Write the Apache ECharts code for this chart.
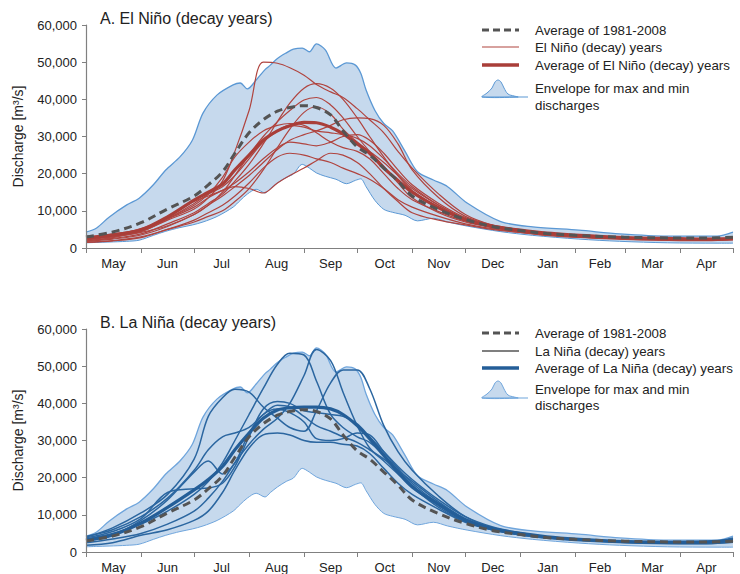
<!DOCTYPE html>
<html>
<head>
<meta charset="utf-8">
<script src="https://cdn.jsdelivr.net/npm/echarts@6/dist/echarts.min.js"></script>
<style>html,body{margin:0;padding:0;background:#fff}#c{width:740px;height:574px}</style>
</head>
<body>
<div id="c"></div>
<script>
// ---- axis labels ----
const monthLabels = ['May','Jun','Jul','Aug','Sep','Oct','Nov','Dec','Jan','Feb','Mar','Apr'];
const monthEdges = [0,31,61,92,123,153,184,214,245,276,304,335,365];
const yTicks = [0,10000,20000,30000,40000,50000,60000];

// ---- envelope (max/min 1981-2008), day of hydrological year from 1 May ----
const envDays = [0,6,13,23,30,38,45,53,60,66,74,83,87,91,96,101,104,108,113,117,122,126,130,135,141,147,152,155,158,163,168,173,180,187,196,204,215,234,252,278,301,328,356,365];
const envUpper = [4300,5400,8300,11600,13400,17000,21000,24500,29000,36300,41200,43900,44400,42800,45200,48000,49200,51000,52500,53500,53800,52800,54900,53300,48400,49800,49200,47000,42500,37000,33500,31500,26000,20500,18300,16500,12100,7100,5700,4800,3800,3200,3200,4300];
const envLower = [1400,1500,1600,1800,2100,3400,4500,5500,6200,7000,8500,11000,12800,14500,15800,14800,16000,17500,19000,19900,22500,21500,20200,19300,18500,17300,18200,18600,16500,12800,10400,9600,8800,7300,8000,7000,5900,4400,3400,2400,1800,1400,1300,1300];

// ---- day grid for the year lines ----
const days = [0,15,31,46,61,69,77,84,92,100,108,115,123,130,138,145,153,160,168,176,184,199,214,229,245,260,276,304,335,350,365];

const avgAll = [3000,4300,6800,10500,14000,17000,20500,25500,31000,34500,36800,37800,38300,37800,35800,31500,27200,25000,21500,18000,14000,10300,7700,5800,4700,3900,3400,2900,2700,2700,2900];

// El Niño (decay) years
const nino1 = [2500,3200,4500,7500,10500,13500,18000,26000,37000,50000,49700,48500,46500,44000,42000,40500,37500,34500,31000,26000,21500,14500,9000,6200,4800,3800,3300,2700,2400,2300,2600];
const nino2 = [2000,2600,3800,6500,9500,12000,14500,18000,22500,28000,34000,39000,43000,44200,43000,40000,35000,30000,24500,19500,15500,11000,7500,5800,4500,3700,3100,2500,2200,2100,2400];
const nino3 = [1800,2400,3500,5800,9000,11500,15000,19500,25000,30000,34000,37000,39800,40500,38500,35000,30000,26000,22000,17500,13500,9500,7000,5500,4300,3500,3000,2500,2200,2100,2300];
const nino4 = [2200,3000,4200,6000,9000,11500,14000,16500,19500,23000,26500,29000,30500,31500,33000,34500,35000,34800,33000,28000,21000,13500,8500,6200,4900,3900,3300,2700,2400,2400,2700];
const nino5 = [1600,2000,3000,5000,7500,9500,11500,14000,17500,21500,24500,25500,25000,24000,23000,21500,20000,18500,16000,13000,11000,8500,6500,5200,4200,3400,2900,2300,2000,2000,2200];
const nino6 = [3000,3800,5000,7800,11000,13500,15500,16500,16000,14800,17500,19500,21500,23500,25500,25000,23000,20000,16000,12500,9500,7500,6200,5000,4200,3500,3000,2500,2200,2200,2600];
const nino7 = [1500,1900,2800,5000,7000,8500,10000,12500,16000,21000,27000,32000,36500,38000,36000,32000,28500,26000,23000,19500,16000,11500,7800,5800,4500,3600,3000,2400,2100,2100,2300];
const nino8 = [2400,3100,4400,7800,12000,14500,16500,19500,24000,28500,31500,33000,32500,31500,31000,30500,29500,27500,24000,20000,16500,11500,8000,6000,4700,3900,3300,2700,2400,2300,2500];
const nino9 = [2000,2800,4800,8500,12500,14000,15500,17500,20500,24000,27000,28500,28000,27500,28500,30000,30500,29000,25500,21000,17000,12000,8200,6100,4700,3800,3200,2600,2300,2300,2600];
const nino10 = [2800,3500,5200,8000,11500,14500,19000,24500,28500,31500,33000,33500,33000,31000,28500,27000,26000,24000,20000,16000,13000,9800,7200,5600,4500,3700,3100,2500,2200,2200,2500];
const ninoAvg = [2700,3500,4900,8400,12900,15000,17200,21000,25000,29000,31500,32900,33800,33700,32500,30700,28000,25500,21500,18200,15000,10800,7600,5900,4800,4000,3500,2800,2500,2400,2500];

// La Niña (decay) years
const nina1 = [4000,6500,10500,15500,25000,36500,41500,43800,43000,39000,36000,33500,32500,38000,45500,49000,49000,44000,34000,27000,22000,15000,9500,6500,5000,4000,3400,2800,2500,2600,3500];
const nina2 = [3500,5000,7500,11000,15500,19000,24000,30000,37000,44000,50500,53500,53000,46000,37000,33500,31000,29500,26000,22000,18000,12500,8500,6200,4800,3900,3300,2700,2400,2400,3000];
const nina3 = [2500,3500,5000,7500,11000,14500,19000,24000,29000,33000,36000,40000,47500,54500,51500,43000,34000,28000,24500,21000,17500,12000,8200,6000,4600,3800,3200,2600,2300,2300,2800];
const nina4 = [3800,5500,9000,16000,17000,17200,18500,23000,31000,38500,40500,40000,38000,37500,37000,36500,34500,31000,27000,23000,19500,14000,9500,6800,5200,4100,3500,2900,2600,2600,3600];
const nina5 = [3000,4500,8500,14000,21500,24500,21000,24000,32000,37000,38500,37500,35000,30500,30000,30500,32000,31500,27000,22500,18500,13000,8800,6300,4900,4000,3400,2800,2500,2500,3200];
const nina6 = [4200,6000,9500,14500,22000,27500,31000,32000,33500,37000,39500,39000,36500,34000,32500,31000,29500,27500,25000,22000,19000,13500,9000,6500,5000,4000,3400,2800,2500,2600,3800];
const nina7 = [1800,2500,4500,6000,8500,11000,16000,22000,28000,31500,32000,31500,30000,29500,29500,29000,28500,26500,22500,18500,15500,11500,8000,6000,4600,3700,3100,2500,2200,2200,2600];
const ninaAvg = [3200,4600,7800,12000,16700,19500,23000,27500,32000,36000,38200,38800,39000,39000,38500,37000,34000,30500,26000,21500,17500,12800,8600,6300,5000,4100,3500,2800,2600,2700,3200];

const ninoYears = [nino1,nino2,nino3,nino4,nino5,nino6,nino7,nino8,nino9,nino10];
const ninaYears = [nina1,nina2,nina3,nina4,nina5,nina6,nina7];

// ---- build option ----
const FONT = 'Liberation Sans, Arial, Helvetica, sans-serif';
const monthMids = monthEdges.slice(0,12).map((e,i)=>(e+monthEdges[i+1])/2);
const pairs = (xs, vs) => xs.map((x,i)=>[x, vs[i]]);

const grids = [
  {left:86, top:25, width:647, height:223},
  {left:86, top:329, width:647, height:223}
];

function xAxisFor(i){
  return {
    type:'value', gridIndex:i, min:0, max:365, z:10,
    axisLine:{show:true, lineStyle:{color:'#808080', width:1.2}},
    axisTick:{show:true, customValues:monthEdges, length:5, lineStyle:{color:'#808080'}},
    axisLabel:{customValues:monthMids, color:'#222', fontSize:13, fontFamily:FONT, margin:9,
      formatter:(v)=>{let k=0,b=1e9;monthMids.forEach((m,j)=>{if(Math.abs(m-v)<b){b=Math.abs(m-v);k=j;}});return monthLabels[k];}},
    splitLine:{show:false}
  };
}
function yAxisFor(i){
  return {
    type:'value', gridIndex:i, min:0, max:60000, interval:10000, z:10,
    axisLine:{show:true, lineStyle:{color:'#808080', width:1.2}},
    axisTick:{show:true, length:4, lineStyle:{color:'#808080'}},
    axisLabel:{color:'#222', fontSize:13, fontFamily:FONT, margin:9,
      formatter:(v)=>v.toLocaleString('en-US')},
    splitLine:{show:false},
    name:'Discharge [m³/s]', nameLocation:'middle', nameGap:61,
    nameTextStyle:{color:'#222', fontSize:14, fontFamily:FONT}
  };
}

const series = [];
function addPanel(i, years, yearColor, avgVals, avgColor, edgeColor, yearWidth){
  // envelope: upper area filled blue, lower area masked white
  series.push({type:'line', xAxisIndex:i, yAxisIndex:i, data:pairs(envDays, envUpper),
    smooth:0.3, symbol:'none', lineStyle:{color:edgeColor, width:1.3}, areaStyle:{color:'#c6d9ed', opacity:1}, z:1, silent:true});
  series.push({type:'line', xAxisIndex:i, yAxisIndex:i, data:pairs(envDays, envLower),
    smooth:0.3, symbol:'none', lineStyle:{color:edgeColor, width:1}, areaStyle:{color:'#ffffff', opacity:1}, z:1, silent:true});
  years.forEach(vals=>{
    series.push({type:'line', xAxisIndex:i, yAxisIndex:i, data:pairs(days, vals), smooth:0.35, symbol:'none',
      lineStyle:{color:yearColor, width:yearWidth}, z:2, silent:true});
  });
  series.push({type:'line', xAxisIndex:i, yAxisIndex:i, data:pairs(days, avgVals), smooth:0.35, symbol:'none',
    lineStyle:{color:avgColor, width:3.2}, z:3, silent:true});
  series.push({type:'line', xAxisIndex:i, yAxisIndex:i, data:pairs(days, avgAll), smooth:0.35, symbol:'none',
    lineStyle:{color:'#545454', width:3, type:[8,5]}, z:4, silent:true});
}
addPanel(0, ninoYears, '#b0443f', ninoAvg, '#a93e39', '#5b98d4', 1.2);
addPanel(1, ninaYears, '#2b66a0', ninaAvg, '#245e98', '#6fa5dc', 1.5);

function legend(rows, texts, yearColor, avgColor, envStroke){
  const x0 = 482, x1 = 519, tx = 535;
  const els = [];
  els.push({type:'line', shape:{x1:x0,y1:rows[0],x2:x1,y2:rows[0]}, style:{stroke:'#545454', lineWidth:3, lineDash:[7,4]}});
  els.push({type:'line', shape:{x1:x0,y1:rows[1],x2:x1,y2:rows[1]}, style:{stroke:yearColor, lineWidth:1.2}});
  els.push({type:'line', shape:{x1:x0,y1:rows[2],x2:x1,y2:rows[2]}, style:{stroke:avgColor, lineWidth:3.5}});
  const b = rows[3]+9;
  els.push({type:'polygon', shape:{smooth:0.35, points:[[x0,b],[487,b-4],[492,b-9],[495,b-15],[498,b-17],[501,b-15],[504,b-9],[508,b-3],[514,b-1],[518,b]]},
    style:{fill:'#c6d9ed', stroke:envStroke, lineWidth:1}});
  els.push({type:'line', shape:{x1:x0,y1:b,x2:528,y2:b}, style:{stroke:envStroke, lineWidth:1.2}});
  const tstyle = (t,y)=>({type:'text', x:tx, y:y, style:{text:t, fill:'#222', font:'13.3px '+FONT, textVerticalAlign:'middle'}});
  els.push(tstyle(texts[0], rows[0]));
  els.push(tstyle(texts[1], rows[1]));
  els.push(tstyle(texts[2], rows[2]));
  els.push(tstyle('Envelope for max and min', rows[3]));
  els.push(tstyle('discharges', rows[4]));
  return els;
}

const graphics = [].concat(
  legend([30,47,65,88,105], ['Average of 1981-2008','El Niño (decay) years','Average of El Niño (decay) years'], '#b0443f', '#a93e39', '#5b98d4'),
  legend([333,351,368,389,405], ['Average of 1981-2008','La Niña (decay) years','Average of La Niña (decay) years'], '#000000', '#245e98', '#6fa5dc')
);

const option = {
  animation:false,
  backgroundColor:'#fff',
  title:[
    {text:'A. El Niño (decay years)', left:100, top:10, padding:0, textStyle:{fontSize:16, fontWeight:'normal', color:'#222', fontFamily:FONT}},
    {text:'B. La Niña (decay years)', left:100, top:314, padding:0, textStyle:{fontSize:16, fontWeight:'normal', color:'#222', fontFamily:FONT}}
  ],
  grid:grids,
  xAxis:[xAxisFor(0), xAxisFor(1)],
  yAxis:[yAxisFor(0), yAxisFor(1)],
  series:series,
  graphic:{elements:graphics}
};

const chart = echarts.init(document.getElementById('c'), null, {renderer:'svg', width:740, height:574});
chart.setOption(option);
</script>
</body>
</html>
